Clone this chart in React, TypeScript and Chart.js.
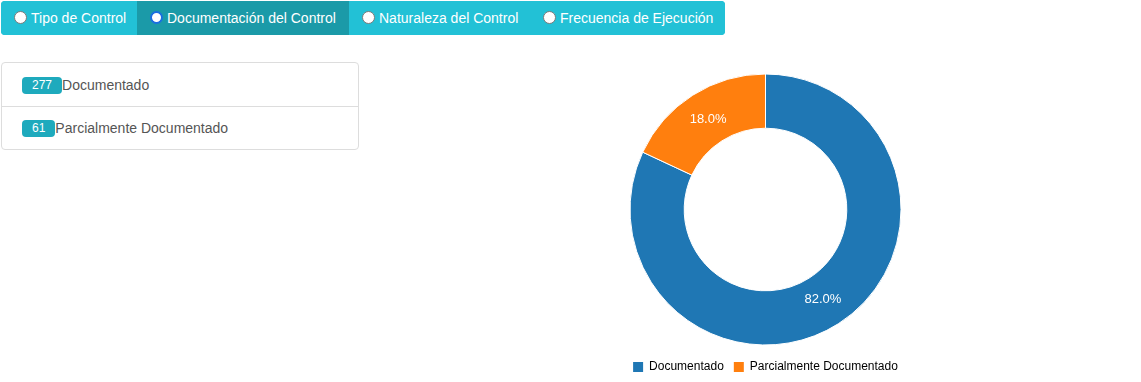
import React, { useEffect, useRef } from "react";
import { Chart, registerables } from "chart.js";

Chart.register(...registerables);

const categories: string[] = ["Documentado", "Parcialmente Documentado"];
const counts: number[] = [277, 61];
const sliceColors: string[] = ["#1f77b4", "#ff7f0e"];
const tabLabels: string[] = [
  "Tipo de Control",
  "Documentación del Control",
  "Naturaleza del Control",
  "Frecuencia de Ejecución",
];
const activeTab = 1;

const FONT = "'Liberation Sans', Arial, Helvetica, sans-serif";

const tabWidths = [136, 212, 181, 195];

const arcLabelPlugin = {
  id: "arcLabels",
  afterDatasetsDraw(chart: any) {
    const ctx = chart.ctx;
    const meta = chart.getDatasetMeta(0);
    const data = chart.data.datasets[0].data as number[];
    const total = data.reduce((a, b) => a + b, 0);
    ctx.save();
    ctx.font = `13px ${FONT}`;
    ctx.fillStyle = "#ffffff";
    ctx.textAlign = "center";
    ctx.textBaseline = "middle";
    meta.data.forEach((arc: any, i: number) => {
      const p = arc.getProps(["x", "y", "startAngle", "endAngle", "innerRadius", "outerRadius"], true);
      const mid = (p.startAngle + p.endAngle) / 2;
      const r = (p.innerRadius + p.outerRadius) / 2 - 1.5;
      const x = p.x + Math.cos(mid) * r;
      const y = p.y + Math.sin(mid) * r;
      ctx.fillText(((data[i] / total) * 100).toFixed(1) + "%", x, y);
    });
    ctx.restore();
  },
};

function Radio({ checked }: { checked: boolean }) {
  return (
    <span
      style={{
        display: "inline-block",
        boxSizing: "border-box",
        width: 13,
        height: 13,
        borderRadius: "50%",
        background: "#fff",
        border: checked ? "2px solid #1a6fe0" : "1px solid #7a7a7a",
        marginRight: 4,
        verticalAlign: "middle",
        position: "relative",
        top: -2,
      }}
    />
  );
}

export default function App() {
  const canvasRef = useRef<HTMLCanvasElement | null>(null);

  useEffect(() => {
    document.body.style.margin = "0";
    document.body.style.overflow = "hidden";
    document.documentElement.style.overflow = "hidden";
    const canvas = canvasRef.current!;
    const chart = new Chart(canvas, {
      type: "doughnut",
      data: {
        labels: categories,
        datasets: [
          {
            data: counts,
            backgroundColor: sliceColors,
            borderColor: "#ffffff",
            borderWidth: 1,
            hoverOffset: 0,
          },
        ],
      },
      options: {
        responsive: false,
        animation: false,
        radius: 135.5,
        cutout: "60%",
        layout: { padding: { top: 28, bottom: 0, left: 0, right: 0 } },
        plugins: {
          tooltip: { enabled: false },
          legend: {
            position: "bottom",
            labels: {
              boxWidth: 10,
              boxHeight: 10,
              padding: 10,
              color: "#000",
              font: { size: 12, family: FONT },
              generateLabels: (ch: any) =>
                ch.data.labels.map((l: string, i: number) => ({
                  text: l,
                  fillStyle: sliceColors[i],
                  strokeStyle: sliceColors[i],
                  lineWidth: 0,
                  hidden: false,
                  index: i,
                  fontColor: "#000",
                })),
            },
          },
        },
      } as any,
      plugins: [arcLabelPlugin],
    });
    return () => chart.destroy();
  }, []);

  return (
    <div
      style={{
        position: "relative",
        width: 1141,
        height: 382,
        overflow: "hidden",
        fontFamily: FONT,
        background: "#fff",
      }}
    >
      <div
        style={{
          position: "absolute",
          left: 1,
          top: 1,
          height: 34,
          display: "flex",
          borderRadius: 4,
          overflow: "hidden",
          background: "#22c1d6",
        }}
      >
        {tabLabels.map((t, i) => (
          <div
            key={t}
            style={{
              width: tabWidths[i],
              height: 34,
              boxSizing: "border-box",
              paddingLeft: 13,
              lineHeight: "34px",
              fontSize: 14,
              color: "#fff",
              whiteSpace: "nowrap",
              background: i === activeTab ? "#1b9aa8" : "#22c1d6",
            }}
          >
            <Radio checked={i === activeTab} />
            {t}
          </div>
        ))}
      </div>

      <div
        style={{
          position: "absolute",
          left: 1,
          top: 62,
          width: 358,
          height: 88,
          boxSizing: "border-box",
          border: "1px solid #dddddd",
          borderRadius: 4,
        }}
      >
        {categories.map((c, i) => (
          <div
            key={c}
            style={{
              height: i === 0 ? 43 : 43,
              boxSizing: "border-box",
              borderTop: i === 0 ? "none" : "1px solid #dddddd",
              paddingLeft: 20,
              display: "flex",
              alignItems: "center",
              fontSize: 14,
              color: "#555555",
            }}
          >
            <span
              style={{
                display: "inline-block",
                background: "#1eaabd",
                color: "#fff",
                fontSize: 12,
                lineHeight: "17px",
                height: 17,
                padding: "0 10px",
                borderRadius: 4,
                marginTop: 1,
              }}
            >
              {counts[i]}
            </span>
            {c}
          </div>
        ))}
      </div>

      <canvas
        ref={canvasRef}
        width={751}
        height={343}
        style={{ position: "absolute", left: 390, top: 40, width: 751, height: 343 }}
      />
    </div>
  );
}
